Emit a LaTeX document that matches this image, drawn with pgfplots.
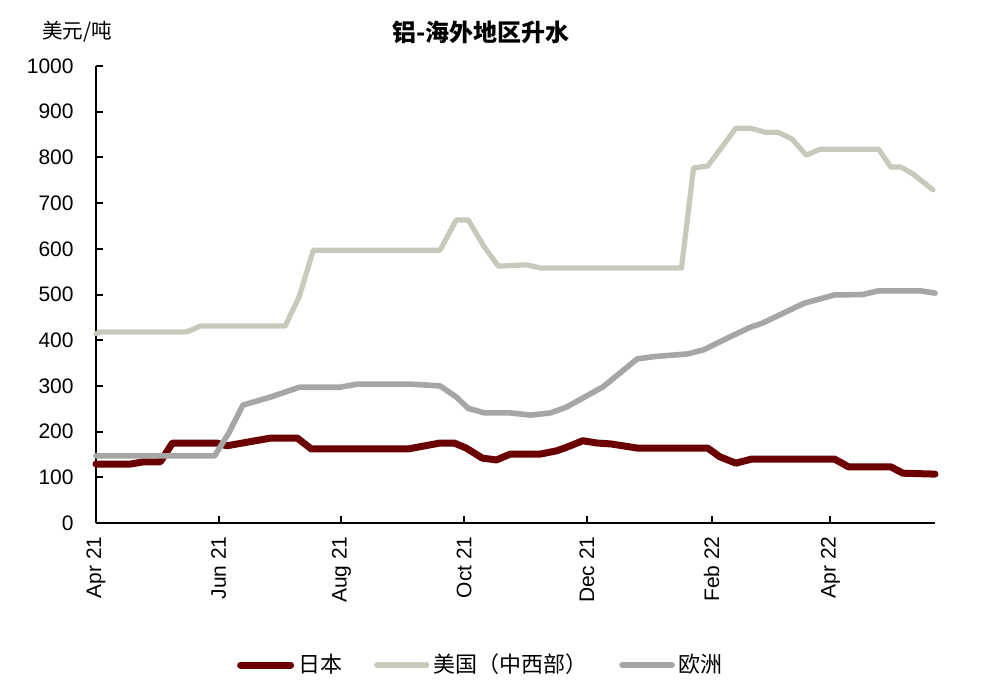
\documentclass[border=0pt]{standalone}
\usepackage{pgfplots}
\pgfplotsset{compat=1.18}
\usepackage{fontspec}
\setmainfont{Liberation Sans}
\newfontfamily\cjk{Noto Sans CJK SC}
\definecolor{jp}{HTML}{6B0000}
\definecolor{us}{HTML}{C8C9BB}
\definecolor{eu}{HTML}{A6A6A6}
\begin{document}
\begin{tikzpicture}
\begin{axis}[
  at={(0,0)}, anchor=south west,
  scale only axis, width=419.5pt, height=228.5pt,
  xmin=0, xmax=417, ymin=0, ymax=1000,
  axis lines=left, axis line style={-, line width=1pt},
  tick align=inside, major tick length=3.5pt,
  tick style={line width=1pt, black},
  xtick={0,61,122,183,244,306,365},
  xticklabels={Apr 21,Jun 21,Aug 21,Oct 21,Dec 21,Feb 22,Apr 22},
  ytick={0,100,...,1000},
  /pgf/number format/assume math mode=true,
  /pgf/number format/1000 sep={},
  tick label style={font=\fontsize{10.5}{12}\selectfont},
  xticklabel style={rotate=90, anchor=east, inner sep=0pt, xshift=-6.5pt},
  yticklabel style={inner sep=0pt, xshift=-11pt},
  legend style={at={(193pt,-71pt)}, anchor=center, draw=none, fill=none,
    legend columns=3, font=\cjk\fontsize{11}{13}\selectfont,
    /tikz/every even column/.append style={column sep=14pt},
    inner sep=0pt},
  legend cell align=left,
  legend image code/.code={\draw[#1] (0pt,0pt) -- (25pt,0pt);},
  clip=false,
]
\addplot[jp, line width=3.5pt, line join=round, line cap=round] coordinates {
(0,129)(17,129)(24,134)(32,134)(38,175)(60,175)(65,169)(87,186)(100,186)(107,162)
(155,162)(171,175)(178,175)(184,164)(192,142)(199,138)(206,151)(221,151)(229,158)
(234,166)(242,180)(249,175)(256,173)(269,164)(304,164)(310,145)(318,131)(326,140)
(367,140)(374,123)(395,123)(401,109)(417,107)};
\addlegendentry{日本}
\addplot[us, line width=2.6pt, line join=round, line cap=round] coordinates {
(0,414)(2,418)(45,418)(52,431)(94,431)(101,495)(108,597)(171,597)(179,663)(185,663)
(193,604)(200,562)(214,565)(221,558)(291,558)(297,777)(304,781)(310,816)(318,864)
(325,864)(333,855)(339,855)(346,840)(353,805)(360,818)(389,818)(395,779)(400,779)
(406,764)(416,729)};
\addlegendentry{美国（中西部）}
\addplot[eu, line width=2.8pt, line join=round, line cap=round] coordinates {
(0,147)(59,147)(66,197)(73,258)(87,276)(101,297)(121,297)(130,304)(156,304)(171,300)
(179,276)(185,251)(193,241)(206,241)(216,236)(226,241)(234,254)(252,298)(269,359)
(277,364)(294,370)(302,379)(314,405)(325,428)(331,437)(352,481)(367,499)(381,500)
(389,508)(410,508)(417,503)};
\addlegendentry{欧洲}
\end{axis}
\node[font=\cjk\bfseries\fontsize{12}{14}\selectfont] at (192.5pt,245.5pt) {铝-海外地区升水};
\node[font=\cjk\fontsize{10.3}{12}\selectfont] at (-9.5pt,245.5pt) {美元/吨};
\pgfresetboundingbox
\path[use as bounding box] (-48pt,-84.5pt) rectangle (446pt,261.5pt);
\end{tikzpicture}
\end{document}
